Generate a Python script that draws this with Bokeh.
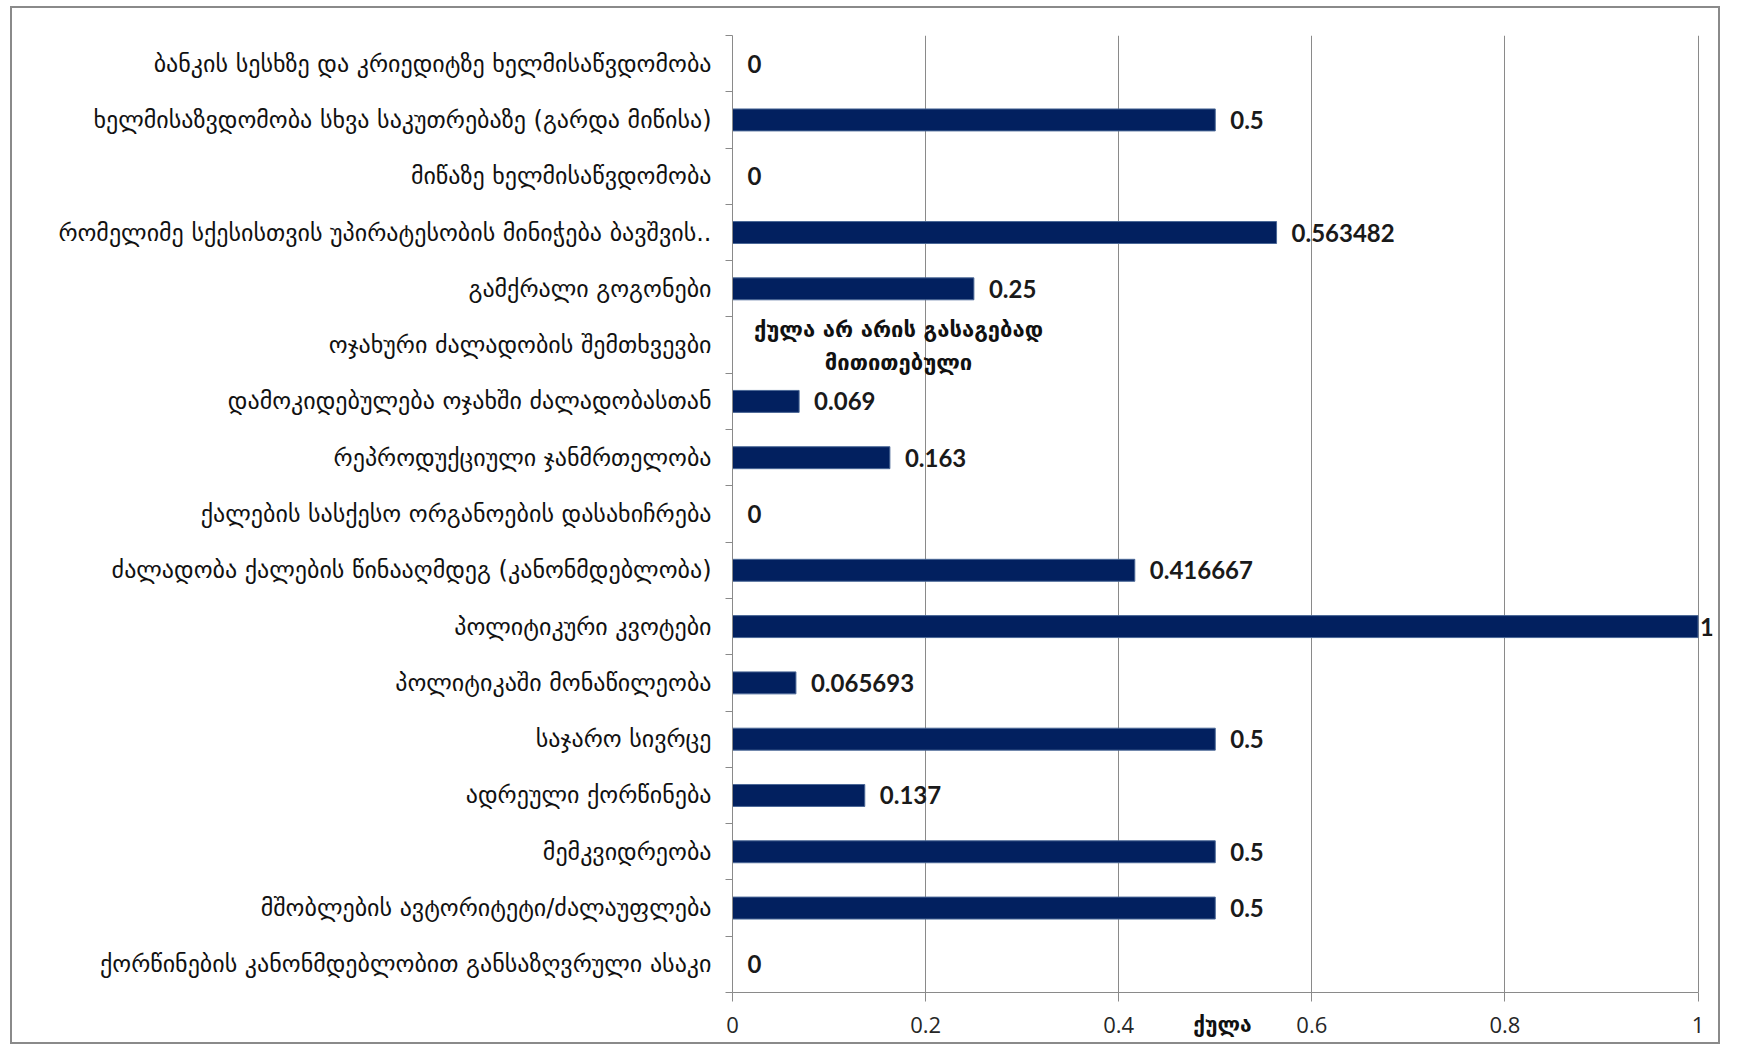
from bokeh.plotting import figure
from bokeh.models import ColumnDataSource, Range1d, FixedTicker, LabelSet, Label
from bokeh.core.properties import value
from bokeh.embed import file_html
from bokeh.resources import INLINE

# ---- data (top to bottom as in the chart) ----
categories = [
    "ბანკის სესხზე და კრიედიტზე ხელმისაწვდომობა",
    "ხელმისაზვდომობა სხვა საკუთრებაზე (გარდა მიწისა)",
    "მიწაზე ხელმისაწვდომობა",
    "რომელიმე სქესისთვის უპირატესობის მინიჭება ბავშვის..",
    "გამქრალი გოგონები",
    "ოჯახური ძალადობის შემთხვევბი",
    "დამოკიდებულება ოჯახში ძალადობასთან",
    "რეპროდუქციული ჯანმრთელობა",
    "ქალების სასქესო ორგანოების დასახიჩრება",
    "ძალადობა ქალების წინააღმდეგ (კანონმდებლობა)",
    "პოლიტიკური კვოტები",
    "პოლიტიკაში მონაწილეობა",
    "საჯარო სივრცე",
    "ადრეული ქორწინება",
    "მემკვიდრეობა",
    "მშობლების ავტორიტეტი/ძალაუფლება",
    "ქორწინების კანონმდებლობით განსაზღვრული ასაკი",
]
values = [0, 0.5, 0, 0.563482, 0.25, None, 0.069, 0.163, 0, 0.416667,
          1, 0.065693, 0.5, 0.137, 0.5, 0.5, 0]
value_labels = ["0", "0.5", "0", "0.563482", "0.25", None, "0.069", "0.163", "0",
                "0.416667", "1", "0.065693", "0.5", "0.137", "0.5", "0.5", "0"]
note_lines = ["ქულა არ არის გასაგებად", "მითითებული"]
note_category = "ოჯახური ძალადობის შემთხვევბი"
x_ticks = [0, 0.2, 0.4, 0.6, 0.8, 1]
x_tick_labels = ["0", "0.2", "0.4", "0.6", "0.8", "1"]
x_title = "ქულა"

n = len(categories)
ypos = [n - 1 - i for i in range(n)]
keep = [i for i in range(n) if values[i] is not None]

bar_src = ColumnDataSource(dict(
    y=[ypos[i] for i in keep],
    v=[values[i] for i in keep],
))
lab_src = ColumnDataSource(dict(
    y=[ypos[i] for i in keep],
    v=[values[i] for i in keep],
    t=[value_labels[i] for i in keep],
    off=[2 if values[i] >= 0.95 else 15 for i in keep],
))

p = figure(width=1710, height=1038, output_backend="svg", toolbar_location=None,
           x_range=Range1d(0, 1.015), y_range=Range1d(-0.5, n - 0.5),
           min_border_left=720, min_border_right=10, min_border_top=27,
           min_border_bottom=54, outline_line_color=None,
           margin=(6, 0, 0, 10),
           styles={"border": "2px solid #8a8a8a"})

p.hbar(y="y", left=0, right="v", height=0.39, source=bar_src,
       fill_color="#02205f", line_color="#4a6796", line_width=1)

labels = LabelSet(x="v", y="y", text="t", x_offset="off", source=lab_src,
                  text_font=value("Lato"), text_font_style="bold",
                  text_font_size="24px", text_baseline="middle",
                  text_align="left", text_color="#1a1a1a")
p.add_layout(labels)

ny = ypos[categories.index(note_category)]
for k, line in enumerate(note_lines):
    p.add_layout(Label(x=0, y=ny, x_offset=166, y_offset=16 - 33 * k, text=line,
                       text_font="DejaVu Sans", text_font_style="bold",
                       text_font_size="22px", text_align="center",
                       text_baseline="middle", text_color="#111111"))

# x axis
xa = p.xaxis[0]
xa.ticker = FixedTicker(ticks=x_ticks)
xa.bounds = (0, 1)
xa.major_label_overrides = {t: s for t, s in zip(x_ticks, x_tick_labels)}
xa.axis_line_color = "#8a8a8a"
xa.major_tick_line_color = "#8a8a8a"
xa.major_tick_out = 9
xa.major_tick_in = 0
xa.minor_tick_line_color = None
xa.major_label_standoff = 15
xa.major_label_text_font = "Open Sans"
xa.major_label_text_font_size = "22px"
xa.major_label_text_color = "#262626"
xa.axis_label = x_title
xa.axis_label_standoff = -23
xa.axis_label_text_font = "DejaVu Sans"
xa.axis_label_text_font_style = "bold"
xa.axis_label_text_font_size = "21px"
xa.axis_label_text_color = "#111111"

# y axis
ya = p.yaxis[0]
ya.ticker = FixedTicker(ticks=ypos, minor_ticks=[k - 0.5 for k in range(n + 1)])
ya.major_label_overrides = {ypos[i]: categories[i] for i in range(n)}
ya.axis_line_color = "#8a8a8a"
ya.major_tick_line_color = None
ya.major_tick_out = 0
ya.major_tick_in = 0
ya.minor_tick_line_color = "#8a8a8a"
ya.minor_tick_out = 7
ya.minor_tick_in = 0
ya.major_label_standoff = 14
ya.major_label_text_font = "DejaVu Sans"
ya.major_label_text_font_size = "24px"
ya.major_label_text_color = "#111111"

p.xgrid.grid_line_color = "#8a8a8a"
p.xgrid.grid_line_width = 1
p.ygrid.grid_line_color = None

open("out.html", "w").write(file_html(p, INLINE))
